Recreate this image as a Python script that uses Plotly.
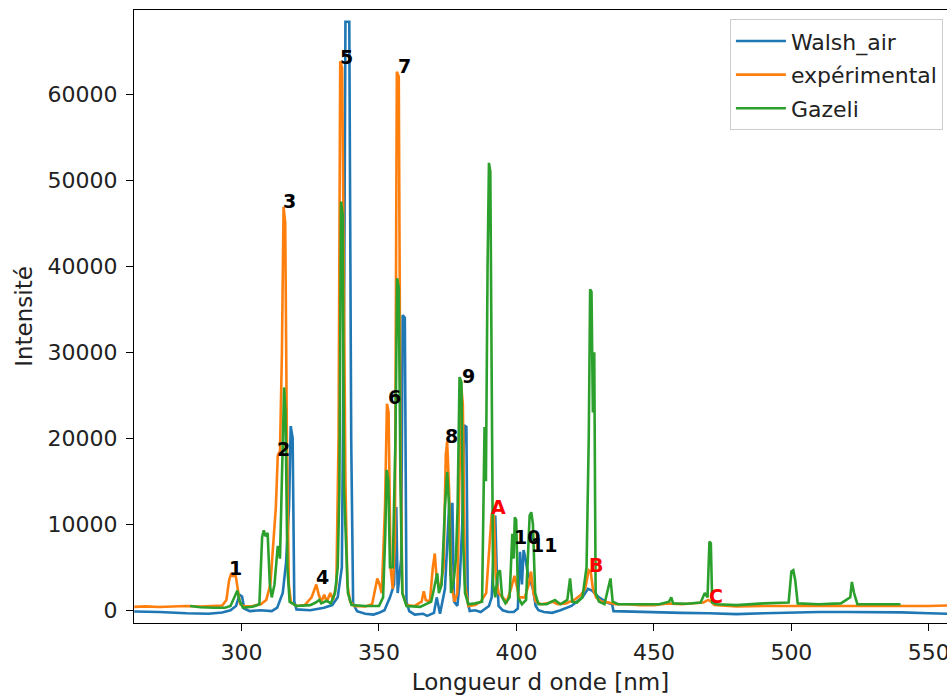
import plotly.graph_objects as go

# Walsh_air simulated spectrum
walsh_nm = [261, 270, 280, 288, 293, 296, 298, 299.3, 300.2, 301, 303, 307, 311, 313, 315, 316.2,
            317.3, 317.9, 318.6, 319.2, 320, 325, 330, 333, 335, 336.5, 337.4, 337.8, 339.2, 339.5,
            339.9, 340.6, 342, 345, 348, 350, 352, 354, 355.5, 356.3, 356.8, 358.1, 358.6, 359.4,
            360, 361, 363, 366, 367.5, 370, 371, 372.2, 373, 374, 375.6, 376, 376.7, 377.3, 378.5,
            379.3, 380.3, 381, 381.8, 382.3, 383, 385, 387, 389, 390, 391, 392.3, 392.8, 393.5, 395,
            397, 399, 400.5, 401.3, 402, 402.6, 403.3, 404, 405, 406, 407, 408, 410, 413, 416, 420,
            424, 426, 427.5, 430, 433, 434.8, 435.3, 440, 450, 460, 470, 480, 490, 500, 510, 520,
            530, 540, 550, 557]
walsh_int = [-150, -200, -350, -400, -250, 0, 500, 1800, 1600, 200, -100, 0, -100, 300, 2000, 5500,
             12000, 21400, 20000, 1000, 100, 0, 300, 600, 1500, 5000, 40000, 68400, 68400, 42000,
             20000, 800, -100, -400, -500, -300, 0, 1500, 3000, 12000, 2000, 6000, 34300, 34000,
             1000, -100, -500, -400, -650, -300, 1500, -400, 800, 2500, 12600, 4000, 12500, 1000, 500,
             3000, 10000, 21500, 21300, 1000, -100, 0, -200, 200, 500, 1500, 11000, 5000, 500, 0,
             -200, -200, 200, 6800, 3000, 7000, 6000, 4500, 3500, 2500, 500, 0, -200, -300, 0, 500,
             1500, 2500, 2300, 1500, 900, 700, -100, -150, -250, -300, -350, -450, -350, -250, -200, -200,
             -200, -250, -350, -400]

# Measured (expérimental) spectrum
exp_nm = [261, 265, 270, 275, 280, 285, 290, 293, 294.5, 295.5, 296.3, 297, 297.8, 298.6, 299.5,
          301, 304, 307, 309, 310.5, 311.5, 312.5, 313.2, 314, 314.7, 315.3, 315.9, 316.5, 317.2,
          318, 320, 323, 325.5, 327.2, 328.1, 329, 330.1, 331, 332.3, 333.3, 334.5, 335.3, 335.9,
          336.6, 337.2, 337.8, 338.5, 339.5, 341, 345, 347.5, 348.5, 349.4, 350.2, 351, 352.2, 352.9,
          353.5, 354.2, 355, 355.8, 356.5, 357.2, 357.8, 358.5, 360, 363, 365.5, 366.3, 367, 368.5,
          369.6, 370.3, 371, 372.2, 373.5, 374.3, 374.8, 375.5, 376.3, 377.5, 378.5, 379.3, 379.9,
          380.5, 381.3, 382.5, 385, 387, 389, 390.3, 391, 391.8, 392.5, 393.5, 395, 396.5, 398,
          399.3, 400, 401, 403, 404.5, 405.3, 406.2, 407, 409, 411, 413, 415, 418, 421, 423.5, 425,
          426.3, 427, 427.8, 429, 431, 433.5, 436, 440, 445, 450, 455, 460, 465, 468, 469.8, 470.8,
          472, 476, 480, 490, 500, 510, 520, 530, 540, 550, 557]
exp_int = [400, 450, 380, 460, 500, 430, 520, 550, 1200, 3500, 4300, 4000, 4200, 2500, 700,
           450, 500, 700, 1200, 3000, 7000, 12000, 18000, 18500, 30000, 46900, 45000, 20000, 3000,
           900, 500, 600, 1500, 3000, 1800, 1000, 1800, 1000, 2000, 1200, 3000, 20000, 63800,
           63000, 40000, 15000, 3000, 1000, 500, 450, 700, 2500, 3700, 3000, 2000, 12000, 24000,
           23000, 5000, 2500, 8000, 62600, 62000, 20000, 2000, 600, 500, 1000, 2200, 1200, 1000,
           5000, 6600, 3500, 2500, 5000, 18000, 19600, 14000, 3000, 1000, 2000, 15000, 26000,
           24000, 3000, 500, 600, 1000, 2000, 8000, 11200, 11000, 4000, 2000, 1500, 1000, 2500,
           4000, 3000, 1500, 1500, 3000, 4500, 2000, 1000, 700, 800, 1000, 700, 800, 1200, 1800, 2500,
           4650, 4500, 2500, 1500, 1000, 900, 700, 700, 600, 600, 800, 700, 800, 900, 1200, 1000,
           600, 500, 450, 500, 500, 450, 500, 500, 450, 500, 550]

# Gazeli spectrum
gaz_nm = [281.3, 285, 290, 294, 296, 297.5, 298.5, 299.2, 300.5, 304, 306.5, 307.5, 308.1, 308.7,
          309.5, 310.3, 311, 312, 313.2, 314, 314.8, 315.5, 316, 316.7, 317.5, 320, 325, 327, 328.3,
          329, 331, 332.5, 334, 335, 335.6, 336.2, 336.8, 337.3, 338, 338.7, 340, 345, 350, 351.5,
          352.3, 352.8, 353.4, 354, 355, 356, 356.6, 357.2, 357.8, 358.5, 360, 365, 369, 370.5,
          371.2, 371.8, 372.8, 374, 374.8, 375.5, 376.2, 377.2, 378, 378.6, 379.3, 380, 380.6,
          381.3, 382.5, 385, 387.5, 388.4, 388.9, 389.5, 390, 390.5, 391, 391.5, 392.3, 393.2, 394,
          394.8, 396, 397.5, 398.5, 399, 399.4, 399.9, 400.6, 402, 403.5, 404.8, 405.4, 406, 406.8,
          408, 411, 414, 416, 418.5, 419.5, 420.3, 422, 424, 425.5, 426.3, 426.8, 427.3, 427.8,
          428.3, 428.8, 430, 432, 433.5, 434.2, 435, 437, 445, 452, 455.5, 456.3, 457, 462, 467,
          468.5, 469.5, 470.2, 470.7, 471.2, 473, 480, 490, 499, 500, 500.7, 501.4, 502.3, 510, 518,
          521.4, 522, 522.8, 524, 530, 539.7]
gaz_int = [500, 350, 300, 300, 500, 1500, 2300, 1200, 300, 400, 700, 8500, 9300, 8600,
           9000, 3000, 1500, 3000, 7500, 6000, 15000, 25900, 23000, 5000, 1000, 500, 600, 900, 1200,
           800, 1100, 800, 2000, 5000, 14000, 47500, 46000, 14000, 8000, 2000, 600, 500, 500, 1500,
           9000, 16300, 15000, 5000, 5000, 20000, 38600, 37500, 15000, 2000, 500, 400, 1000, 3000,
           4300, 2000, 3000, 12000, 16100, 12000, 2000, 3500, 6000, 12000, 27100, 26500, 8000,
           2000, 700, 800, 1000, 21300, 15000, 40000, 52000, 51000, 25000, 3000, 1500, 4300, 4650,
           1500, 800, 1500, 8900, 6000, 10800, 10500, 1500, 700, 1200, 11000, 11400, 10000, 2000,
           700, 700, 1200, 700, 1200, 3700, 1000, 900, 1500, 5000, 20000, 37300, 37000, 23000,
           30000, 2000, 1000, 700, 3000, 3700, 1000, 700, 700, 700, 1000, 1500, 800, 750, 900,
           2000, 1500, 8000, 7800, 900, 700, 600, 800, 900, 4500, 4650, 3500, 800, 700, 800,
           1500, 3300, 2000, 700, 700, 700]

# Peak identifiers: (text, wavelength, intensity, colour)
peak_labels = ["1", "2", "3", "4", "5", "6", "7", "8", "9", "A", "10", "11", "B", "C"]
peak_nm = [295.45, 312.9, 315.1, 327.1, 335.8, 353.3, 357.0, 374.0, 380.2, 390.8, 399.1, 405.3, 426.4, 470.0]
peak_int = [4885, 18700, 47570, 3840, 64300, 24770, 63270, 20240, 27200, 11980, 8490, 7560, 5230, 1630]
peak_colors = ["black"] * 9 + ["red", "black", "black", "red", "red"]

x_ticks = [300, 350, 400, 450, 500, 550]
y_ticks = [0, 10000, 20000, 30000, 40000, 50000, 60000]

series = [
    ("Walsh_air", walsh_nm, walsh_int, "#1f77b4"),
    ("expérimental", exp_nm, exp_int, "#ff7f0e"),
    ("Gazeli", gaz_nm, gaz_int, "#2ca02c"),
]

fig = go.Figure()
for name, xs, ys, col in series:
    fig.add_trace(go.Scatter(x=xs, y=ys, mode="lines", name=name, legendgroup=name,
                             line=dict(color=col, width=2.6)))

for t, xv, yv, c in zip(peak_labels, peak_nm, peak_int, peak_colors):
    fig.add_annotation(x=xv, y=yv, text=t, showarrow=False, xanchor="left", yanchor="middle",
                       font=dict(family="DejaVu Sans", size=19, color=c, weight="bold"),
                       borderpad=0, xshift=-1)

axis_common = dict(showline=True, linecolor="black", linewidth=1.2, ticks="outside",
                   ticklen=7, tickwidth=1.2, tickcolor="black", showgrid=False, zeroline=False,
                   automargin=False,
                   tickfont=dict(family="DejaVu Sans", size=22, color="#222"))

fig.update_layout(
    width=947, height=695,
    margin=dict(l=134, r=0, t=10, b=72),
    paper_bgcolor="white", plot_bgcolor="white",
    font=dict(family="DejaVu Sans", color="#222"),
    xaxis=dict(range=[260.9, 556.6], tickvals=x_ticks, mirror=True, ticklabelstandoff=2,
               ticklabeloverflow="allow",
               title=dict(text="Longueur d onde [nm]", font=dict(size=23), standoff=10),
               **axis_common),
    yaxis=dict(range=[-1480, 69770], tickvals=y_ticks, tickformat="d", ticklabelstandoff=4,
               title=dict(text="Intensité", font=dict(size=23), standoff=8),
               **axis_common),
    legend=dict(x=0.995, y=0.985, xanchor="right", yanchor="top", itemwidth=50,
                bgcolor="rgba(255,255,255,0.8)", bordercolor="#cccccc", borderwidth=1,
                font=dict(family="DejaVu Sans", size=22, color="#222"),
                tracegroupgap=2, traceorder="grouped"),
    showlegend=True,
)

fig.write_html("out.html")
